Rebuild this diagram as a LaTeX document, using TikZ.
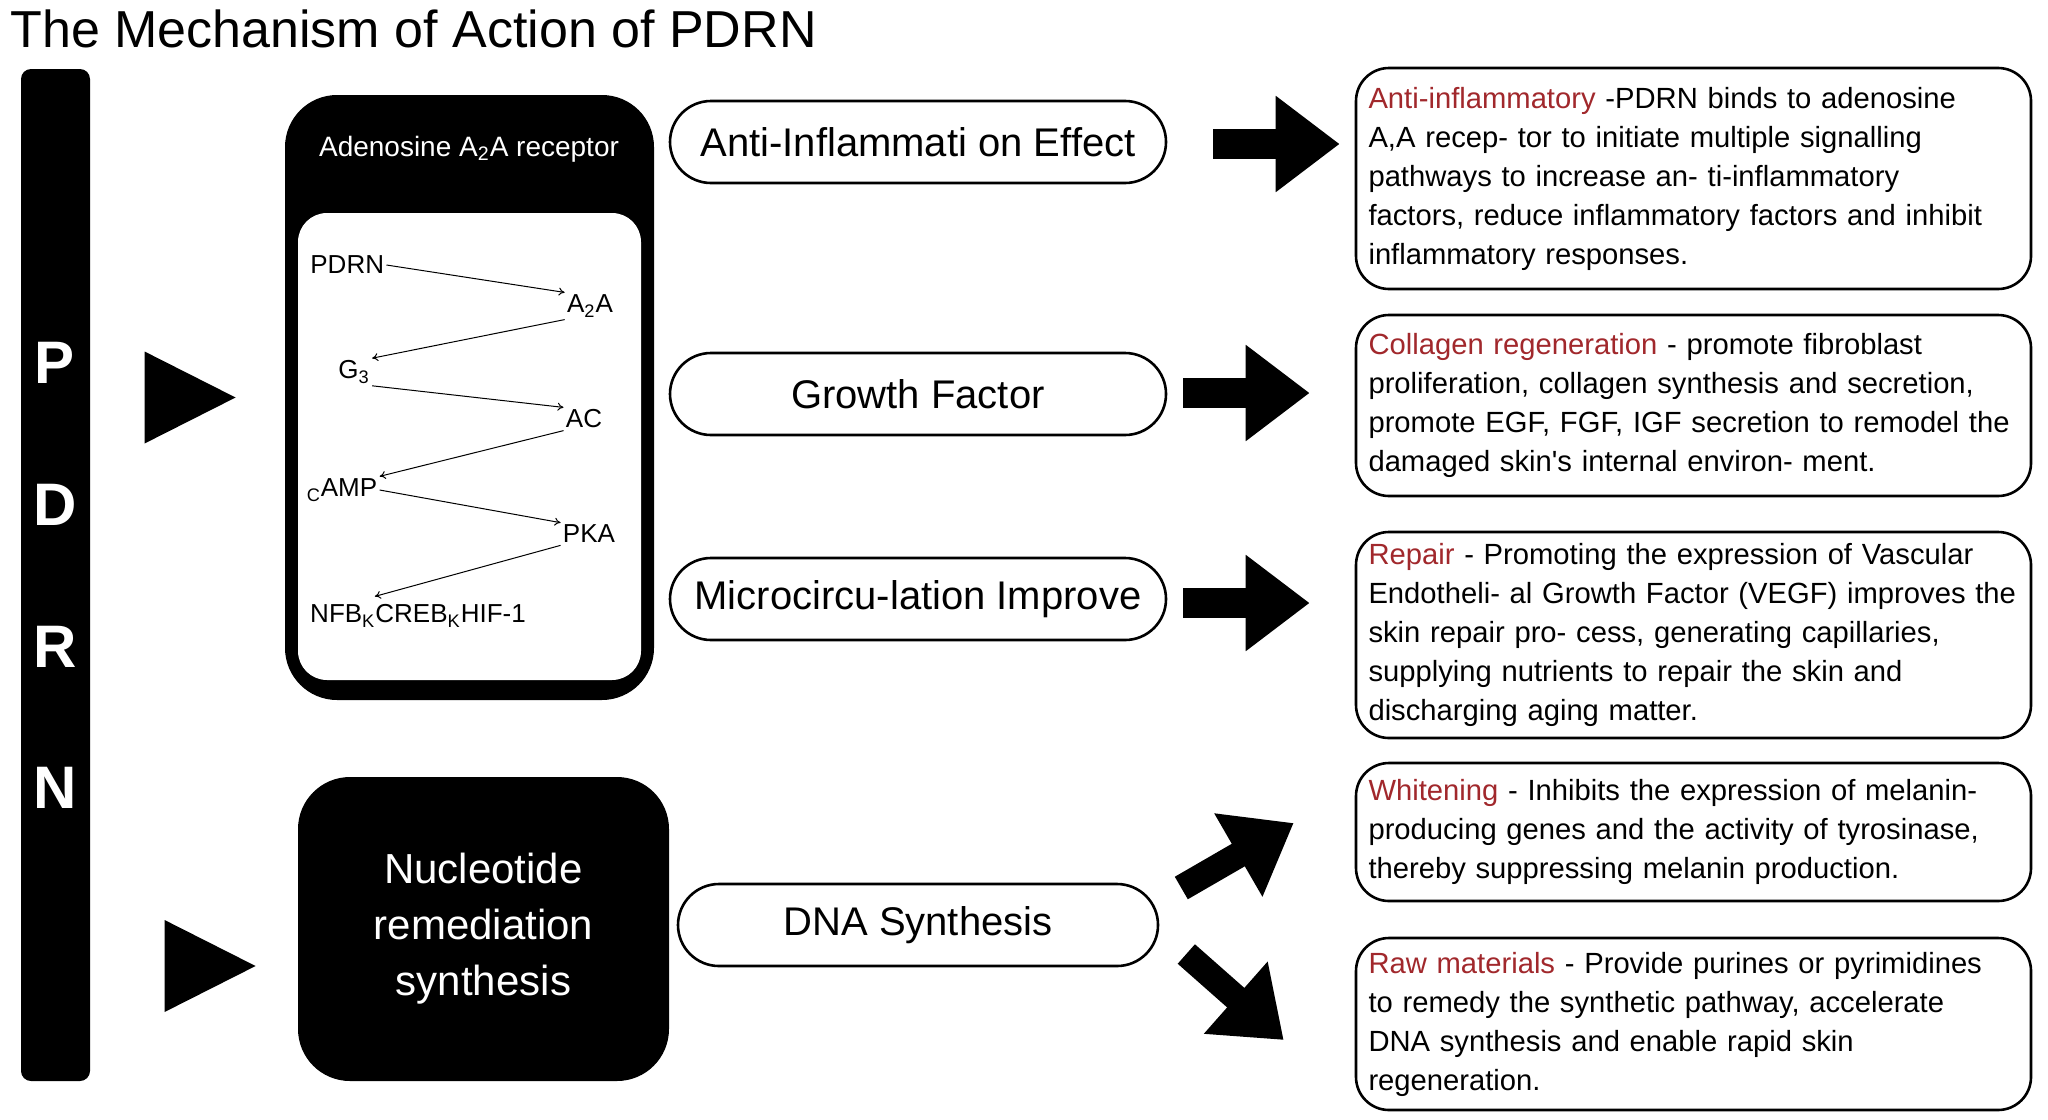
\documentclass[tikz,border=0pt]{standalone}
\usepackage{fontspec}
\setmainfont{Liberation Sans}[Ligatures=TeXOff]
\usepackage{tikz}
\usetikzlibrary{arrows.meta,calc,positioning}
\definecolor{INK}{HTML}{000000}
\definecolor{RED}{HTML}{A1282C}

\begin{document}
\begin{tikzpicture}[x=0.5pt,y=-0.5pt]
\tikzset{pill/.style={draw=INK,line width=1.3pt,fill=white,rounded corners=20.5pt,minimum width=248pt,minimum height=41pt,font=\fontsize{20}{24}\selectfont},
 note/.style={draw=INK,line width=1.3pt,rounded corners=16.5pt,text width=325pt,inner xsep=6.25pt,inner ysep=2pt,minimum height=#1,align=left,font=\fontsize{14.6}{19.5}\selectfont},
 lab/.style={inner sep=1pt,font=\fontsize{13}{15}\selectfont},sig/.style={-{To[length=3pt,width=4pt]},line width=0.5pt},
 blk/.style={line width=15pt,INK,-{Triangle[length=32pt,width=46pt]}},barletter/.style={text=white,font=\bfseries\fontsize{30}{30}\selectfont}}
\path[use as bounding box,fill=white] (0,0) rectangle (2048,1119);
\node[anchor=west,inner sep=0pt,font=\fontsize{26}{30}\selectfont] (title) at (10,29) {The Mechanism of Action of PDRN};
% PDRN bar
\node[fill=INK,rounded corners=5pt,minimum width=34.5pt,minimum height=506pt] (bar) at (55.5,575) {};
\foreach \ch [count=\i from 0] in {P,D,R,N}{\node[barletter] (l\ch) at (55,363+141.7*\i) {\ch};}
% receptor
\node[fill=INK,rounded corners=26pt,minimum width=184.5pt,minimum height=302.5pt] (rec) at (469.5,397.5) {};
\node[text=white,font=\fontsize{14}{16}\selectfont] (rechead) at (469,149) {Adenosine A\textsubscript{2}A receptor};
\node[fill=white,rounded corners=14.5pt,minimum width=171.5pt,minimum height=233.5pt] (inner) at (469.5,446.5) {};
\node[lab,anchor=west] (sPDRN) at (308,265) {PDRN};
\node[lab] (sA2A) at (590,306) {A\textsubscript{2}A};
\node[lab] (sG3) at (354,372) {G\textsubscript{3}};
\node[lab] (sAC) at (584,419) {AC};
\node[lab] (scAMP) at (342,490) {\textsubscript{C}AMP};
\node[lab] (sPKA) at (589,534) {PKA};
\node[lab] (sNF) at (418,616) {NFB\textsubscript{K}CREB\textsubscript{K}HIF-1};
\draw[sig] (sPDRN.east) -- (sA2A.north west);
\draw[sig] (sA2A.south west) -- (sG3.north east);
\draw[sig] (sG3.south east) -- (sAC.north west);
\draw[sig] (sAC.south west) -- (scAMP.north east);
\draw[sig] (scAMP.east) -- (sPKA.north west);
\draw[sig] (sPKA.south west) -- ($(sNF.north west)+(67,-6)$);
% nucleotide
\node[fill=INK,text=white,align=center,rounded corners=26pt,minimum width=185.5pt,minimum height=152pt,font=\fontsize{21}{28}\selectfont] (nuc) at (483.5,929) {Nucleotide\\remediation\\synthesis};
\fill[INK] ($(rec.west)+(-49,0)$) -- ++(-91,-46) -- ++(0,92) -- cycle;
\fill[INK] ($(nuc.west)+(-42,37)$) -- ++(-91,-46) -- ++(0,92) -- cycle;
% effects
\node[pill] (p1) at (918,142) {Anti-Inflammati on Effect};
\node[pill] (p2) at (918,394) {Growth Factor};
\node[pill] (p3) at (918,599) {Microcircu-lation Improve};
\node[pill,minimum width=240pt] (p4) at (918,925) {DNA Synthesis};
\node[note=110.5pt] (b1) at (1693.5,178.5) {\textcolor{RED}{Anti-inflammatory} -PDRN binds to adenosine\\A,A recep- tor to initiate multiple signalling\\pathways to increase an- ti-inflammatory\\factors, reduce inflammatory factors and inhibit\\inflammatory responses.};
\node[note=90.5pt] (b2) at (1693.5,405.5) {\textcolor{RED}{Collagen regeneration} - promote fibroblast\\proliferation, collagen synthesis and secretion,\\promote EGF, FGF, IGF secretion to remodel the\\damaged skin's internal environ- ment.};
\node[note=103pt] (b3) at (1693.5,635) {\textcolor{RED}{Repair} - Promoting the expression of Vascular\\Endotheli- al Growth Factor (VEGF) improves the\\skin repair pro- cess, generating capillaries,\\supplying nutrients to repair the skin and\\discharging aging matter.};
\node[note=69pt] (b4) at (1693.5,832) {\textcolor{RED}{Whitening} - Inhibits the expression of melanin-\\producing genes and the activity of tyrosinase,\\thereby suppressing melanin production.};
\node[note=86pt] (b5) at (1693.5,1024) {\textcolor{RED}{Raw materials} - Provide purines or pyrimidines\\to remedy the synthetic pathway, accelerate\\DNA synthesis and enable rapid skin\\regeneration.};
\draw[blk] ($(p1.east)+(46,2)$) -- ($(p1.east -| b1.west)+(-15,2)$);
\draw[blk] ($(p2.east)+(16,-1)$) -- ($(p2.east -| b2.west)+(-45,-1)$);
\draw[blk] ($(p3.east)+(16,4)$) -- ($(p3.east -| b3.west)+(-45,4)$);
\draw[blk,line width=13pt] ($(p4.east)+(22,-37)$) -- ($(b4.west)+(-61,-9)$);
\draw[blk,line width=13pt] ($(p4.east)+(27,29)$) -- ($(b5.west)+(-71,16)$);
\end{tikzpicture}
\end{document}
